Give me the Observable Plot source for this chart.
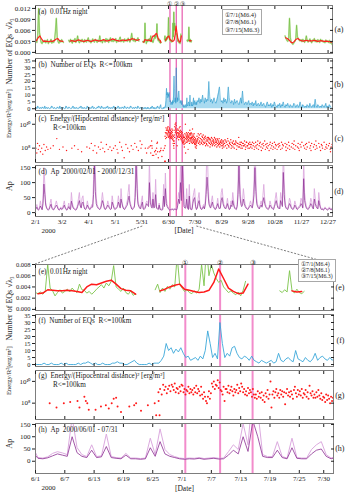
<!DOCTYPE html>
<html><head><meta charset="utf-8">
<script src="https://cdn.jsdelivr.net/npm/d3@7"></script>
<script src="https://cdn.jsdelivr.net/npm/@observablehq/plot@0.6"></script>
<style>
html,body{margin:0;padding:0;background:#fff;}
#wrap{position:relative;width:350px;height:495px;overflow:hidden;font-family:"Liberation Serif","Times New Roman",serif;color:#222;}
#wrap svg{position:absolute;left:0;overflow:visible;background:transparent;}
.leg{position:absolute;border:1px solid #a8a8a8;background:#fff;white-space:nowrap;color:#222;font-family:"Liberation Serif","Times New Roman",serif;}
</style></head><body><div id="wrap"></div>
<script>
// ---------- DATA (day index 0 = 2000-02-01) ----------
const eqTimes = ["2000-07-01T16:01:00Z","2000-07-08T18:57:00Z","2000-07-15T10:30:00Z"];
const eqMarks = ["\u2460","\u2461","\u2462"];
const eqLegend = ["\u24607/1(M6.4)","\u24617/8(M6.1)","\u24627/15(M6.3)"];

const topTickDays = [0,30,60,90,120,150,180,210,240,270,300,330];
const topTickLabels = ["2/1","3/2","4/1","5/1","5/31","6/30","7/30","8/29","9/28","10/28","11/27","12/27"];
const botTickDays = [121,127,133,139,145,151,157,163,169,175,180];
const botTickLabels = ["6/1","6/7","6/13","6/19","6/25","7/1","7/7","7/13","7/19","7/25","7/30"];
const energyTicks = [1e8, 1e10];
const energyTickLabels = ["10\u2078","10\u00b9\u2070"];

// sqrt(lambda3), units of 1e-4, daily Feb 1 - May 27
const lambdaFebMay = [30,27,45,120,55,38,26,24,31,28, 33,26,29,35,24,30,28,36,25,31,
 27,34,58,93,40,29,25,32,28,35, 30,27,null,null,null,null,null,33,28,36,
 30,25,34,29,38,27,32,45,30,26, 33,29,36,31,27,35,30,28,34,40,
 29,33,26,31,37,30,28,36,32,27, 34,30,45,29,33,26,35,31,28,38,
 32,36,27,33,40,30,34,29,35,31, 38,27,33,30,36,42,29,34,31,28,
 37,32,35,30,39,33,28,36,52,34, 31,38,29,35,33,40,31];
// half-day, Jun 1 - Jul 26
const lambdaJunJul = [30,28,31,27,33,80,38,33,24,30, 35,29,32,36,31,38,33,30,45,35,
 34,29,32,27,31,36,40,44,38,47, 42,50,78,40,36,32,38,30,27,33,
 25,28,null,null,null,null,null,null,null,35, 45,30,38,32,41,36,44,40,95,45,
 38,32,35,30,28,33,29,36,80,42, 110,60,80,65,55,48,52,40,35,30,
 33,29,26,31,24,34,50,null,null,null, null,null,null,null,null,null,null,null,null,null,
 33,30,35,31,69,34,29,36,30,28, 32,null];
// daily, Nov 8 - Dec 31
const lambdaNovDec = [45,38,33,30,36,93,40,28,24,22, 26,30,35,74,42,38,33,31,35,29,
 36,32,27,34,45,31,28,33,37,30, 26,34,31,38,29,33,28,35,30,27,
 36,31,33,28,30,26,34,29,31,27, 33,25,28,22];
// smoothed (red)
const redFebMay = [32,40,45,36,30,31,30,29,31,30, 32,36,38,32,31,30,null,null,null,31,
 32,31,30,33,34,32,31,30,32,33, 31,30,32,34,33,31,32,33,35,32,
 31,33,34,37,35,33,32,31,33,34, 32,33,35,34,38,36,34,33,35];
const redJunJul = [28,29,35,34,33,33,34,33,32,30, 40,45,44,47,50,52,45,37,34,33,
 27,null,null,null,null,33,36,40,43,45, 36,34,32,30,31,34,48,72,55,38,
 32,28,29,45,null,null,null,null,null,null, null,null,33,31,32,null];
const redNovDec = [40,38,34,28,26,30,36,38,34,32,31,32,33,31,32,31,33,32,30,31,32,31,30,31,30,29,28];

// Number of EQs (R<=100km)
const cntFebMay = [1,0,2,1,0,1,0,1,1,0,2,0,1,0,1,0,0,1,2,1,0,1,0,0,1,1,0,2,0,
 1,0,1,0,0,2,1,0,1,1,0,0,1,2,0,1,0,1,0,0,1,1,2,0,1,0,1,0,0,2,1,
 0,1,0,1,2,0,1,0,0,1,1,2,1,0,2,1,0,1,0,1,1,2,0,1,0,1,0,1,2,0,
 1,0,1,2,0,1,0,1,1,0,2,1,0,1,1,0,1,2,1,0,1,0,1,1,0,2,1,0,1,0,1];
const cntJunJul = [0,0,0,1,0,0,1,0,0,0, 1,0,1,0,0,0,0,1,0,1, 1,2,1,0,1,0,0,1,0,0,
 0,1,1,2,1,1,0,0,1,2, 3,1,0,0,0,0,1,0,1,1,
 1,3,6,15,10,12,8,11,9,12,
 8,5,6,3,4,5,3,6,4,10, 24,15,5,8,4,30,15,5,8,6, 12,13,8,5,4,6,5,3,6,3,
 2,1,3,2,1,2,3,1,2,8, 3,2,4,5,3,2,10,4,3,2, 5,3,2,4,8,3,5,6,4,3, 5,3];
const cntAugDec = [6,5,8,4,7,5,10,6,4,8,5,7,6,20,9,5,7,4,6,8,5,4,6,9,12,16,7,5,6,4,8,
 5,7,4,6,16,8,5,4,6,5,3,7,4,5,6,4,3,5,8,4,13,6,3,4,5,3,4,6,3,4,
 3,5,2,4,3,6,2,3,4,2,3,5,2,3,4,2,1,3,5,2,3,2,4,1,3,2,5,3,2,1,3,
 2,4,1,3,2,5,2,1,3,2,4,2,1,3,2,1,2,4,3,1,2,3,1,2,5,2,1,3,2,1,
 2,1,3,2,1,4,2,1,2,3,1,7,2,1,3,2,1,2,1,3,2,1,2,4,1,2,1,3,2,1];

// Energy/R^2 : exponent x10
const energySparse = [[0.5,80],[1.5,76],[2.3,84],[3.2,79],[4.5,82],[5.6,77],[7,80],[8.2,75],[9.5,83],[11,78],[12.5,81],[14,79],[17,80],[20,82],[24,88],[27,79],
 [31,81],[35,78],[41,80],[44,82],[48,79],[52,77],[58,81],
 [61,80],[63,84],[65,78],[67,82],[69,76],[71,81],[73,79],[74,85],[76,80],[78,77],[80,83],[82,79],[84,81],[86,78],[88,80],
 [90,82],[92,79],[93,76],[95,85],[97,81],[98,78],[100,72],[102,83],[104,80],[106,77],[108,82],[110,79],[112,84],[114,81],[116,78],[118,86],[119,80],[120,83],
 [123.9,80],[125.3,76],[126.8,80],[128.1,81],[129.6,82],[130,76],[131,86],[131.3,82],[131.6,80],[131.9,74],[133.3,74],[134.4,77],[135.4,78],[136,75],[136.6,80],[137,84],[137.5,85],[137.8,77],[138.5,72],[140.2,77],[141.2,78],[141.6,80],[142.6,73],[144,78],[145.4,80],[145.7,69],[146.2,82],[146.4,69]];
const energyJunJul = [[90,93,88],[97,92,95,89],[93,96,91,97],[95,92,98,90,94],[93,89,95,91,97],
 [96,90,93,88,92],[91,95,89,93,90],[92,88,94,90,96],[89,93,91,87,95],[88,84,90,86,82],[80,86,91,84,89],[98,95,100,93,97],[96,101,94,99,92],[91,88,95,82,93],[93,90,96,89,92],
 [95,91,87,93,90],[92,97,89,94,91],[98,95,90,93,88],[91,87,94,89,92],[90,86,93,88,85],[88,84,91,86,89],[85,90,83,87,81],[89,86,92,84,88],[100,76,88,91,85],[90,93,87,89,85],
 [92,88,91,86,90],[79,89,93,87,90],[86,91,88,84,92],[95,89,86,92,88],[91,87,93,85,89],[88,92,86,90,84],[96,89,87,91,85],[88,85,90,86,92],[87,84,89,83,86],[85,81,88,83,87],[84,80,86,82,85]];
const energyAug = [[90,86,88],[87,92,84],[89,85,91],[86,83,88],[88,92,85],[84,87,90],[86,89,83],[91,85,88],[87,84,89],[85,90,82],[88,86,84],[83,87,89],[86,82,88],[89,85,87],[84,88,81],[87,83,86],[85,89,84],[88,82,86],[83,87,85],[86,84,89],[82,88,85],[87,83,86],[85,81,88],[84,87,82],[86,83,85],[88,84,81],[83,86,85],[85,82,87],[84,86,80],[82,85,83],[86,81,84]];
const energySep = [[84,87],[82,86],[85,80],[83,88],[86,82],[81,84],[85,83],[87,80],[82,85],[84,81],[86,83],[80,84],[83,86],[85,79],[82,84],[84,81],[89,83],[81,85],[83,80],[85,82],[80,84],[84,82],[82,86],[83,79],[81,85],[85,82],[82,80],[84,83],[80,85],[83,81]];
const energyOct = [[83],[80,85],[82],[84,79],[81],[85,82],[80],[83,86],[79],[82,84],[85],[81,78],[83],[80,84],[82],[86],[79,83],[81],[84,80],[82],[78],[83,85],[80],[82],[84,79],[81],[85],[80,83],[82],[79],[83]];
const energyNov = [[81,84],[82],[79],[85],[80,83],[82],[],[84],[81,78],[83],[80],[85],[82,79],[],[81],[84],[80],[83,86],[79],[82],[],[81],[84,80],[78],[83],[81],[85],[],[82],[80]];
const energyDec = [[83],[79,84],[81],[],[85],[80],[82,78],[84],[],[81],[83],[79],[86,82],[80],[],[84],[81],[78],[83],[82,80],[],[85],[79],[81],[83,80],[],[82],[84],[79,77],[81],[83]];

// Ap daily (dark) and daily max ap (light), Feb 1 - Dec 31
const apDaily = [12,18,10,8,14,22,15,9,30,95,60,25,15,10,8,12,20,28,15,10,9,14,18,25,20,12,8,10,15,
 10,12,18,25,15,10,8,14,20,12,10,38,25,15,12,10,8,12,20,30,40,22,15,30,35,20,12,10,15,25,18,
 12,10,15,20,18,60,160,70,30,20,15,12,10,14,25,40,30,15,10,12,18,25,20,14,10,12,35,25,15,10,
 12,15,20,35,25,15,45,30,18,12,10,15,20,25,40,55,30,20,12,10,15,18,50,160,80,30,20,15,12,25,35,
 12,10,14,22,30,25,20,100,35,20,15,45,15,18,60,15,12,10,25,10,10,8,10,55,20,80,30,20,15,10,
 8,10,9,12,8,10,12,9,10,25,45,30,100,40,165,100,20,15,15,45,15,10,55,12,10,10,30,45,50,20,10,
 15,30,40,20,12,10,15,20,12,25,60,118,70,30,20,15,25,35,20,15,10,12,20,30,18,12,15,40,50,30,20,
 15,12,20,30,18,10,12,25,20,40,25,15,12,10,20,60,160,60,30,20,25,45,30,20,15,12,10,15,20,25,
 20,15,30,60,150,70,30,20,15,12,20,25,18,35,50,30,20,15,12,10,15,25,20,15,12,10,20,30,40,25,15,
 15,12,40,30,20,134,60,25,15,12,10,20,30,25,15,12,10,15,25,20,12,10,15,18,20,30,25,15,113,40,
 25,15,12,10,15,20,30,25,15,12,45,30,20,15,12,40,25,15,10,12,8,10,15,12,10,8,12,15,10,12,8];
const apMax = [15,27,13,11,18,39,19,12,48,150,96,34,18,13,11,15,32,45,19,13,12,18,27,39,27,15,11,13,19,
 13,15,27,39,19,13,11,18,32,15,13,67,34,19,15,13,11,15,27,48,67,27,18,48,56,27,15,13,19,39,22,
 15,13,19,27,22,111,300,132,48,27,19,15,13,18,39,67,39,19,13,15,22,39,27,18,13,15,56,34,19,13,
 15,19,27,56,34,19,80,39,22,15,13,19,27,39,67,94,39,27,15,13,19,22,94,236,154,39,27,19,15,39,56,
 15,13,18,32,39,34,27,179,56,27,19,67,19,22,111,19,15,13,32,13,13,11,13,94,27,132,48,27,19,13,
 11,13,12,15,11,13,15,12,13,39,67,48,154,67,300,207,27,19,19,80,19,13,94,15,13,13,48,67,80,27,13,
 19,48,67,27,15,13,19,27,15,39,111,236,132,48,27,19,39,56,27,19,13,15,27,48,22,15,19,67,80,48,27,
 19,15,27,48,22,13,15,39,27,67,39,19,15,13,27,111,300,111,48,27,39,80,48,27,19,15,13,19,27,39,
 27,19,48,111,236,132,48,27,19,15,27,39,22,56,94,48,27,19,15,13,19,39,27,19,15,13,27,48,67,39,19,
 19,15,67,48,27,207,115,39,19,15,13,27,48,39,19,15,13,19,39,27,15,13,19,22,27,48,39,19,179,67,
 39,19,15,13,19,27,48,39,19,15,80,48,27,19,15,67,39,19,13,15,11,13,19,15,13,11,15,19,13,15,11];

// ---------- BUILD ----------
const FONT = '"Liberation Serif","Times New Roman",serif';
const wrap = document.getElementById("wrap");
const day0 = Date.UTC(2000, 1, 1);
const eqDays = eqTimes.map(s => (Date.parse(s) - day0) / 864e5);
const NB = "\u00a0";

const lamPts = [];
lambdaFebMay.forEach((v,i)=>lamPts.push({d:i+0.5, v, s:0}));
lambdaJunJul.forEach((v,i)=>lamPts.push({d:121+i/2, v, s:1}));
lambdaNovDec.forEach((v,i)=>lamPts.push({d:281+i+0.5, v, s:2}));
lamPts.forEach(p => p.v = p.v == null ? NaN : p.v*1e-4);
const redPts = [];
redFebMay.forEach((v,i)=>redPts.push({d:2*i+1, v, s:0}));
redJunJul.forEach((v,i)=>redPts.push({d:121+i+0.5, v, s:1}));
redNovDec.forEach((v,i)=>redPts.push({d:281+2*i+1, v, s:2}));
redPts.forEach(p => p.v = p.v == null ? NaN : p.v*1e-4);

const cntPts = [];
cntFebMay.forEach((v,i)=>cntPts.push({d:i+0.5, v}));
cntJunJul.forEach((v,i)=>cntPts.push({d:121+i/2+0.25, v}));
cntAugDec.forEach((v,i)=>cntPts.push({d:182+i+0.5, v}));

const apPts = apDaily.map((v,i)=>({d:i+0.5, v, m:apMax[i]}));

const enPts = energySparse.map(([d,e])=>({d, E:10**(e/10)}));
function addDays(start, lists){ lists.forEach((l,i)=>l.forEach((e,j)=>enPts.push({d:start+i+(j+0.5)/l.length, E:10**(e/10)}))); }
addDays(146, energyJunJul); addDays(182, energyAug); addDays(213, energySep);
addDays(243, energyOct); addDays(274, energyNov); addDays(304, energyDec);

const f3 = d3.format(".3f");
const enFmt = d => energyTickLabels[energyTicks.indexOf(d)];

function panel(o){
  const mt = 14, mb = 14;
  const marks = [
    Plot.ruleX(eqDays, {x:d=>d, stroke:o.pink, strokeWidth:o.pinkW}),
    ...o.marks,
    Plot.frame({stroke:"#7d7d7d", strokeWidth:1}),
    Plot.axisY({ticks:o.yTicks, tickFormat:o.yFmt, tickSize:3, tickPadding:2, fontSize:o.tickSize ?? 7, label:null}),
    Plot.axisY({anchor:"right", ticks:o.yTicks, tickFormat:()=>"", tickSize:3, dx:-3, label:null}),
    Plot.axisX({anchor:"bottom", ticks:o.xTicks, tickFormat:()=>"", tickSize:3, dy:-3, label:null}),
    Plot.axisX({anchor:"top", ticks:o.xTicks, tickFormat:()=>"", tickSize:3, dy:3, label:null}),
    Plot.text([o.title], {text:d=>d, frameAnchor:"top-left", dx:3, dy:o.titleDy ?? 3, textAnchor:"start", lineAnchor:"top", fontSize:7.2, lineHeight:1.15}),
    Plot.text([o.tag], {text:d=>d, frameAnchor:"right", dx:11, fontSize:8}),
    Plot.text([o.ylabel], {text:d=>d, frameAnchor:"left", dx:-26.5, rotate:-90, fontSize:o.ylabelSize ?? 8}),
    ...(o.extra || [])
  ];
  const svg = Plot.plot({
    width:350, height:o.h + mt + mb,
    marginLeft:35, marginRight:350 - o.right, marginTop:mt, marginBottom:mb,
    style:{fontFamily:FONT, background:"transparent", overflow:"visible", color:"#222"},
    x:{domain:o.xd, label:null},
    y:{...o.y, label:null},
    marks
  });
  svg.style.position = "absolute"; svg.style.left = "0px"; svg.style.top = (o.top - mt) + "px";
  svg.style.overflow = "visible";
  wrap.appendChild(svg);
  return svg;
}

const TOP = {xd:[0,335], right:332, xTicks:topTickDays, pink:"#e75aae", pinkW:1.2};
const BOT = {xd:[121,182], right:333, xTicks:botTickDays, pink:"#f28ccb", pinkW:2};
const topFmt = d => topTickLabels[topTickDays.indexOf(d)];
const botFmt = d => botTickLabels[botTickDays.indexOf(d)];

// (a)
panel({...TOP, top:5, h:48, y:{domain:[-0.0003,0.0128]}, yTicks:[0,0.003,0.006,0.009,0.012], yFmt:f3,
  title:"(a)"+NB+NB+"0.01Hz night", tag:"(a)", ylabel:"\u221a\u03bb\u2083",
  marks:[
    Plot.line(lamPts, {x:"d", y:"v", z:"s", stroke:"#c2e6a3", strokeWidth:1.6, clip:true}),
    Plot.line(lamPts, {x:"d", y:"v", z:"s", stroke:"#6cba3c", strokeWidth:0.6, clip:true}),
    Plot.line(redPts, {x:"d", y:"v", z:"s", stroke:"#ff1f1f", strokeWidth:1.2, clip:true})
  ],
  extra:[Plot.text(eqDays, {x:d=>d, text:(d,i)=>eqMarks[i], frameAnchor:"top", dy:-3, fontSize:5.5})]
});
// (b)
panel({...TOP, top:58, h:52, y:{domain:[-1.3,36.8]}, yTicks:[0,5,10,15,20,25,30,35], yFmt:d=>d, tickSize:6.3,
  title:"(b)"+NB+NB+"Number of EQs"+NB+NB+"R<=100km", tag:"(b)", ylabel:"Number of EQs",
  marks:[
    Plot.areaY(cntPts, {x:"d", y:"v", fill:"#a8daf0", clip:true}),
    Plot.lineY(cntPts, {x:"d", y:"v", stroke:"#2195c9", strokeWidth:0.55, clip:true})
  ]});
// (c)
panel({...TOP, top:113, h:49, y:{type:"log", domain:[10**6.8,10**10.9]}, yTicks:energyTicks, yFmt:enFmt,
  title:"(c)"+NB+NB+"Energy/(Hipocentral distance)\u00b2 [erg/m\u00b2]\n"+NB.repeat(8)+"R<=100km", titleDy:2,
  tag:"(c)", ylabel:"Energy/R\u00b2[erg/m\u00b2]", ylabelSize:6.6,
  marks:[Plot.dot(enPts, {x:"d", y:"E", r:0.7, fill:"#ff1a1a", stroke:null, clip:true})]});
// (d)
const plotD = panel({...TOP, top:165, h:51, y:{domain:[-13,157]}, yTicks:[0,50,100,150], yFmt:d=>d,
  title:"(d)"+NB+NB+"Ap"+NB+NB+"2000/02/01 - 2000/12/31", tag:"(d)", ylabel:"Ap",
  marks:[
    Plot.lineY(apPts, {x:"d", y:"m", stroke:"#dcaadf", strokeWidth:0.9, clip:true}),
    Plot.lineY(apPts, {x:"d", y:"v", stroke:"#8b2d92", strokeWidth:0.7, clip:true})
  ],
  extra:[
    Plot.axisX({anchor:"bottom", ticks:topTickDays, tickFormat:topFmt, tickSize:0, tickPadding:3, fontSize:7, label:null}),
    Plot.text(["2000"], {text:d=>d, frameAnchor:"bottom-left", dx:6, dy:16, fontSize:7}),
    Plot.text(["[Date]"], {text:d=>d, frameAnchor:"bottom", dy:16, fontSize:7.5})
  ]});

// (e)
const plotE = panel({...BOT, top:264, h:46, y:{domain:[-0.0002,0.008]}, yTicks:[0,0.002,0.004,0.006,0.008], yFmt:f3, tickSize:6.5,
  title:"(e)"+NB+NB+"0.01Hz night", titleDy:4, tag:"(e)", ylabel:"\u221a\u03bb\u2083",
  marks:[
    Plot.line(lamPts, {x:"d", y:"v", z:"s", stroke:"#7cc449", strokeWidth:0.9, clip:true}),
    Plot.line(redPts, {x:"d", y:"v", z:"s", stroke:"#ff1a1a", strokeWidth:1.5, clip:true})
  ],
  extra:[Plot.text(eqDays, {x:d=>d, text:(d,i)=>eqMarks[i], frameAnchor:"top", dy:-4, fontSize:7})]
});
// (f)
panel({...BOT, top:314, h:52, y:{domain:[-1.4,35.7]}, yTicks:[0,5,10,15,20,25,30,35], yFmt:d=>d, tickSize:6.3,
  title:"(f)"+NB+NB+"Number of EQs"+NB+NB+"R<=100km", tag:"(f)", ylabel:"Number of EQs",
  marks:[Plot.lineY(cntPts, {x:"d", y:"v", stroke:"#3aa7d9", strokeWidth:0.9, clip:true})]});
// (g)
panel({...BOT, top:370, h:49, y:{type:"log", domain:[10**6.5,10**11]}, yTicks:energyTicks, yFmt:enFmt,
  title:"(g)"+NB+NB+"Energy/(Hipocentral distance)\u00b2 [erg/m\u00b2]\n"+NB.repeat(8)+"R<=100km", titleDy:2,
  tag:"(g)", ylabel:"Energy/R\u00b2[erg/m\u00b2]", ylabelSize:6.6,
  marks:[Plot.dot(enPts, {x:"d", y:"E", r:1.0, fill:"#ff1a1a", stroke:null, clip:true})]});
// (h)
const plotH = panel({...BOT, top:423, h:50, y:{domain:[-50,154]}, yTicks:[0,50,100,150], yFmt:d=>d,
  title:"(h)"+NB+NB+"Ap"+NB+NB+"2000/06/01 - 07/31", tag:"(h)", ylabel:"Ap",
  marks:[
    Plot.lineY(apPts, {x:"d", y:"m", stroke:"#dcaadf", strokeWidth:1, clip:true}),
    Plot.lineY(apPts, {x:"d", y:"v", stroke:"#8b2d92", strokeWidth:0.8, clip:true})
  ],
  extra:[
    Plot.axisX({anchor:"bottom", ticks:botTickDays, tickFormat:botFmt, tickSize:0, tickPadding:3, fontSize:7, label:null}),
    Plot.text(["2000"], {text:d=>d, frameAnchor:"bottom-left", dx:6, dy:16, fontSize:7}),
    Plot.text(["[Date]"], {text:d=>d, frameAnchor:"bottom", dy:17, fontSize:7.5})
  ]});

// dashed connector lines (zoom range Jun 1 - Aug 1)
const xsTop = plotD.scale("x"), xsBot = plotH.scale("x");
const ov = d3.create("svg").attr("width",350).attr("height",495)
  .style("position","absolute").style("left","0px").style("top","0px").style("pointer-events","none");
[[121,121],[182,182]].forEach(([a,b]) => {
  ov.append("line").attr("x1", xsTop.apply(a)).attr("y1", 226).attr("x2", xsBot.apply(b)).attr("y2", 264)
    .attr("stroke","#444").attr("stroke-width",0.7).attr("stroke-dasharray","2,1.5");
});
wrap.appendChild(ov.node());

// legends
function legend(left, top, fs, lh){
  const div = document.createElement("div");
  div.className = "leg";
  div.style.left = left+"px"; div.style.top = top+"px";
  div.style.fontSize = fs+"px"; div.style.lineHeight = lh+"px";
  div.style.padding = "1px 2px";
  div.innerHTML = eqLegend.join("<br>");
  wrap.appendChild(div);
}
legend(222, 9, 6.4, 7.4);
legend(298, 259, 5.8, 6.2);
</script></body></html>
